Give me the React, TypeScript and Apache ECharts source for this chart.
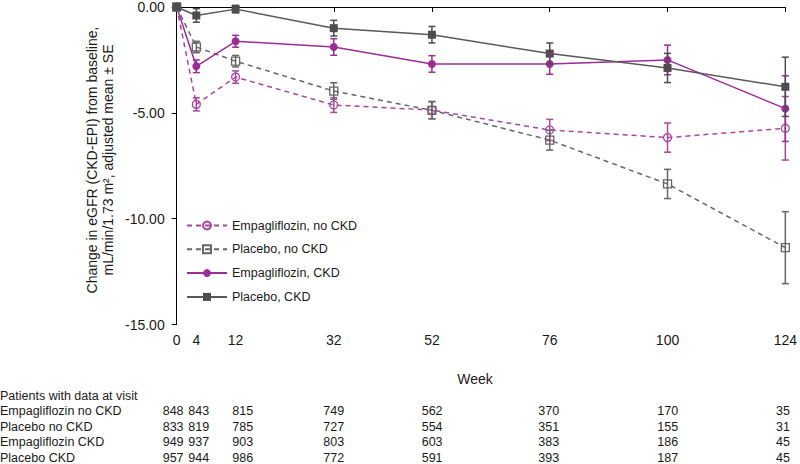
import React, { useEffect, useRef } from "react";
import * as echarts from "echarts";

const weeks = [0, 4, 12, 32, 52, 76, 100, 124];
const weekTicks = [0, 4, 12, 32, 52, 76, 100, 124];
const yTicks = [0, -5, -10, -15];

const empaNoCkd = [0, -4.6, -3.31, -4.63, -4.87, -5.81, -6.17, -5.73];
const empaNoCkdSE = [0, 0.31, 0.29, 0.35, 0.41, 0.5, 0.69, 1.5];
const placeboNoCkd = [0, -1.89, -2.56, -3.97, -4.88, -6.29, -8.36, -11.37];
const placeboNoCkdSE = [0, 0.27, 0.27, 0.39, 0.4, 0.47, 0.69, 1.7];
const empaCkd = [0, -2.8, -1.62, -1.89, -2.69, -2.69, -2.5, -4.8];
const empaCkdSE = [0, 0.3, 0.28, 0.39, 0.39, 0.49, 0.7, 1.55];
const placeboCkd = [0, -0.4, -0.1, -1.0, -1.31, -2.2, -2.88, -3.77];
const placeboCkdSE = [0, 0.32, 0.18, 0.37, 0.39, 0.5, 0.69, 1.4];

const seriesNames = [
  "Empagliflozin, no CKD",
  "Placebo, no CKD",
  "Empagliflozin, CKD",
  "Placebo, CKD",
];

const tableTitle = "Patients with data at visit";
const tableRowLabels = [
  "Empagliflozin no CKD",
  "Placebo no CKD",
  "Empagliflozin CKD",
  "Placebo CKD",
];
const countsEmpaNoCkd = [848, 843, 815, 749, 562, 370, 170, 35];
const countsPlaceboNoCkd = [833, 819, 785, 727, 554, 351, 155, 31];
const countsEmpaCkd = [949, 937, 903, 803, 603, 383, 186, 45];
const countsPlaceboCkd = [957, 944, 986, 772, 591, 393, 187, 45];

const yTitle = "Change in eGFR (CKD-EPI) from baseline,\nmL/min/1.73 m², adjusted mean ± SE";
const xTitle = "Week";

// layout
const tableColX = [162.7, 188.3, 232.3, 323.3, 421.7, 538.3, 657.3, 776];
const PURPLE = "#9C2C96";
const PURPLE_D = "#A8479F";
const GRAY = "#4D4D4D";
const GRAY_L = "#595959";
const GRAY_D = "#666666";

function pairs(vals: number[]) {
  return weeks.map((w, i) => [w, vals[i]]);
}
function errData(vals: number[], se: number[]) {
  return weeks
    .map((w, i) => [w, vals[i] - se[i], vals[i] + se[i]])
    .filter((_, i) => se[i] > 0);
}

function errSeries(vals: number[], se: number[], color: string) {
  return {
    type: "custom",
    data: errData(vals, se),
    z: 3,
    renderItem: (params: any, api: any) => {
      const x = api.value(0);
      const lo = api.value(1);
      const hi = api.value(2);
      const top = api.coord([x, hi]);
      const bot = api.coord([x, lo]);
      const w = 3.5;
      const style = { stroke: color, lineWidth: 1.5, fill: "none" };
      return {
        type: "group",
        children: [
          { type: "line", shape: { x1: top[0], y1: top[1], x2: bot[0], y2: bot[1] }, style },
          { type: "line", shape: { x1: top[0] - w, y1: top[1], x2: top[0] + w, y2: top[1] }, style },
          { type: "line", shape: { x1: bot[0] - w, y1: bot[1], x2: bot[0] + w, y2: bot[1] }, style },
        ],
      };
    },
    silent: true,
  };
}

export default function App() {
  const ref = useRef<HTMLDivElement>(null);
  useEffect(() => {
    document.body.style.margin = "0";
    const chart = echarts.init(ref.current!, null, { renderer: "svg" });
    const counts = [countsEmpaNoCkd, countsPlaceboNoCkd, countsEmpaCkd, countsPlaceboCkd];
    const rowY = [411, 426.5, 442, 457.5];
    const font = "Liberation Sans, Arial, sans-serif";
    const graphics: any[] = [
      {
        type: "text",
        x: 100,
        y: 160,
        rotation: Math.PI / 2,
        style: {
          text: yTitle,
          font: `14px ${font}`,
          fill: "#1a1a1a",
          textAlign: "center",
          textVerticalAlign: "middle",
          lineHeight: 16,
        },
      },
      {
        type: "text",
        x: 475,
        y: 379,
        style: { text: xTitle, font: `14px ${font}`, fill: "#1a1a1a", textAlign: "center", textVerticalAlign: "middle" },
      },
      {
        type: "text",
        x: 0,
        y: 396,
        style: { text: tableTitle, font: `12.5px ${font}`, fill: "#1a1a1a", textAlign: "left", textVerticalAlign: "middle" },
      },
    ];
    tableRowLabels.forEach((lab, r) => {
      graphics.push({
        type: "text",
        x: 0,
        y: rowY[r],
        style: { text: lab, font: `12.5px ${font}`, fill: "#1a1a1a", textAlign: "left", textVerticalAlign: "middle" },
      });
      counts[r].forEach((c, i) => {
        graphics.push({
          type: "text",
          x: tableColX[i],
          y: rowY[r],
          style: { text: String(c), font: `12.5px ${font}`, fill: "#1a1a1a", textAlign: "left", textVerticalAlign: "middle" },
        });
      });
    });

    const option: any = {
      animation: false,
      backgroundColor: "#ffffff",
      textStyle: { fontFamily: font },
      grid: { left: 176.7, right: 12.7, top: 5.5, bottom: 139.5, containLabel: false },
      legend: {
        data: seriesNames,
        orient: "vertical",
        left: 186,
        top: 219,
        padding: 0,
        itemGap: 10.8,
        itemWidth: 40,
        itemHeight: 10,
        textStyle: { fontSize: 12.5, color: "#1a1a1a", fontFamily: font },
      },
      xAxis: {
        type: "value",
        min: 0,
        max: 124,
        splitLine: { show: false },
        axisLine: { lineStyle: { color: "#000", width: 1 } },
        axisTick: { show: true, length: 5, customValues: weekTicks, lineStyle: { color: "#000" } },
        axisLabel: { customValues: weekTicks, fontSize: 14, color: "#1a1a1a", margin: 8, fontFamily: font },
      },
      yAxis: {
        type: "value",
        min: -15,
        max: 0,
        interval: 5,
        splitLine: { show: false },
        axisLine: { show: true, lineStyle: { color: "#000", width: 1 } },
        axisTick: { show: true, length: 5, customValues: yTicks, lineStyle: { color: "#000" } },
        axisLabel: {
          fontSize: 14,
          color: "#1a1a1a",
          margin: 12,
          fontFamily: font,
          formatter: (v: number) => v.toFixed(2),
        },
      },
      series: [
        {
          name: seriesNames[0],
          type: "line",
          data: pairs(empaNoCkd),
          symbol: "circle",
          symbolSize: 8,
          lineStyle: { color: PURPLE_D, width: 1.5, type: [5, 4] },
          itemStyle: { color: "rgba(255,255,255,0)", borderColor: PURPLE_D, borderWidth: 1.3 },
          z: 2,
        },
        {
          name: seriesNames[1],
          type: "line",
          data: pairs(placeboNoCkd),
          symbol: "rect",
          symbolSize: 8,
          lineStyle: { color: GRAY_D, width: 1.5, type: [5, 4] },
          itemStyle: { color: "rgba(255,255,255,0)", borderColor: GRAY_D, borderWidth: 1.3 },
          z: 2,
        },
        {
          name: seriesNames[2],
          type: "line",
          data: pairs(empaCkd),
          symbol: "circle",
          symbolSize: 8,
          lineStyle: { color: PURPLE, width: 1.5 },
          itemStyle: { color: PURPLE, borderWidth: 0 },
          z: 2,
        },
        {
          name: seriesNames[3],
          type: "line",
          data: pairs(placeboCkd),
          symbol: "rect",
          symbolSize: 8,
          lineStyle: { color: GRAY_L, width: 1.5 },
          itemStyle: { color: GRAY, borderWidth: 0 },
          z: 2,
        },
        errSeries(empaNoCkd, empaNoCkdSE, PURPLE_D),
        errSeries(placeboNoCkd, placeboNoCkdSE, GRAY_D),
        errSeries(empaCkd, empaCkdSE, PURPLE),
        errSeries(placeboCkd, placeboCkdSE, GRAY),
      ],
      graphic: graphics,
    };
    chart.setOption(option);
    return () => chart.dispose();
  }, []);
  return <div ref={ref} style={{ width: 800, height: 464 }} />;
}
